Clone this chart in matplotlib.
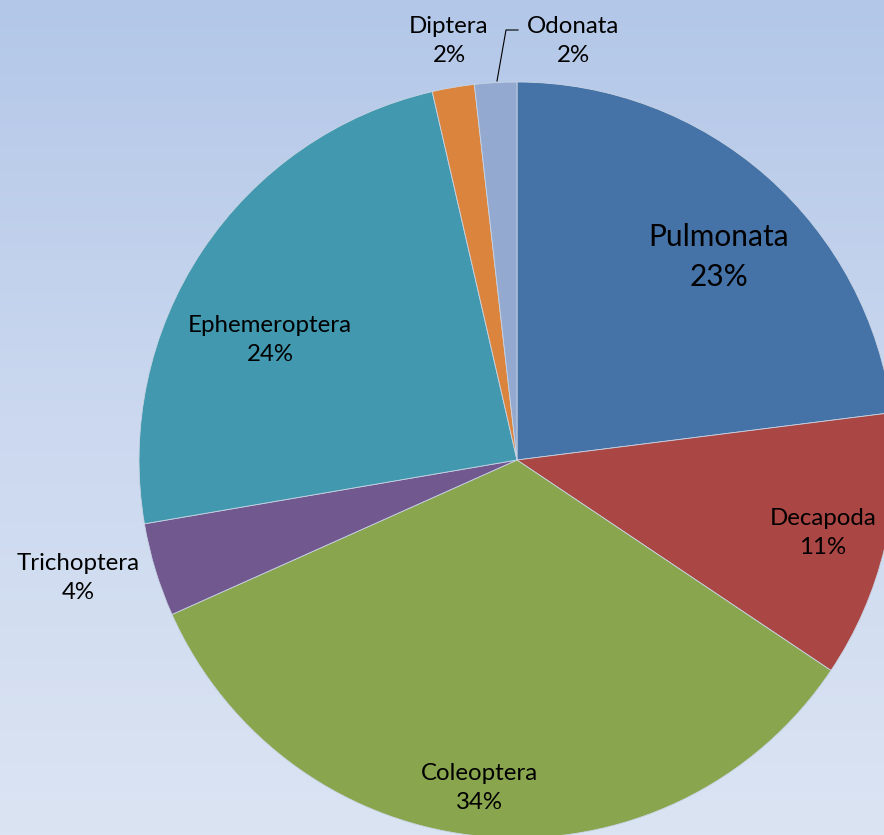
import numpy as np
import matplotlib.pyplot as plt
from matplotlib.colors import LinearSegmentedColormap

# taxon shares of the sample (percent), clockwise from 12 o'clock
taxa = ["Pulmonata", "Decapoda", "Coleoptera", "Trichoptera",
        "Ephemeroptera", "Diptera", "Odonata"]
shares = [23.0, 11.4, 33.9, 4.0, 24.1, 1.8, 1.8]
colors = ["#4572A7", "#AA4643", "#89A54E", "#71588F",
          "#4198AF", "#DB843D", "#93A9CF"]

W, H, DPI = 884, 835, 100
CX, CY, R = 517, 460, 378  # pie centre and radius in pixels


def px(x, y):
    """pixel position -> pie data units (radius 1)"""
    return (x - CX) / R, (CY - y) / R


# label anchors (pixels) and font sizes
label_pos = {
    "Pulmonata": (719, 257),
    "Decapoda": (823, 533),
    "Coleoptera": (479, 788),
    "Trichoptera": (78, 578),
    "Ephemeroptera": (270, 340),
    "Diptera": (449, 41),
    "Odonata": (573, 41),
}
label_size = {name: 17.3 for name in taxa}
label_size["Pulmonata"] = 21.5

plt.rcParams["font.family"] = ["Lato", "DejaVu Sans"]

fig = plt.figure(figsize=(W / DPI, H / DPI), dpi=DPI)

# soft vertical gradient behind the chart
bg = fig.add_axes([0, 0, 1, 1])
cmap = LinearSegmentedColormap.from_list("bg", ["#B3C7E8", "#CBD8EF", "#DBE4F3"])
bg.imshow(np.linspace(0, 1, 256).reshape(-1, 1), aspect="auto", cmap=cmap,
          extent=[0, 1, 0, 1], origin="upper")
bg.set_axis_off()

ax = fig.add_axes([0, 0, 1, 1])
ax.patch.set_visible(False)
ax.pie(shares, colors=colors, startangle=90, counterclock=False,
       radius=1, center=(0, 0),
       wedgeprops=dict(edgecolor="#c8d4e4", linewidth=0.6))
ax.set_xlim(-CX / R, (W - CX) / R)
ax.set_ylim(-(H - CY) / R, CY / R)
ax.set_aspect("auto")
ax.set_axis_off()

for name, value in zip(taxa, shares):
    x, y = px(*label_pos[name])
    ax.text(x, y, f"{name}\n{value:.0f}%", ha="center", va="center",
            fontsize=label_size[name], color="black", linespacing=1.5)

# leader line for the small Odonata wedge
lx, ly = zip(px(518, 30), px(506, 30), px(497, 81))
ax.plot(lx, ly, color="black", lw=0.8)

fig.savefig("out.png", dpi=DPI)
